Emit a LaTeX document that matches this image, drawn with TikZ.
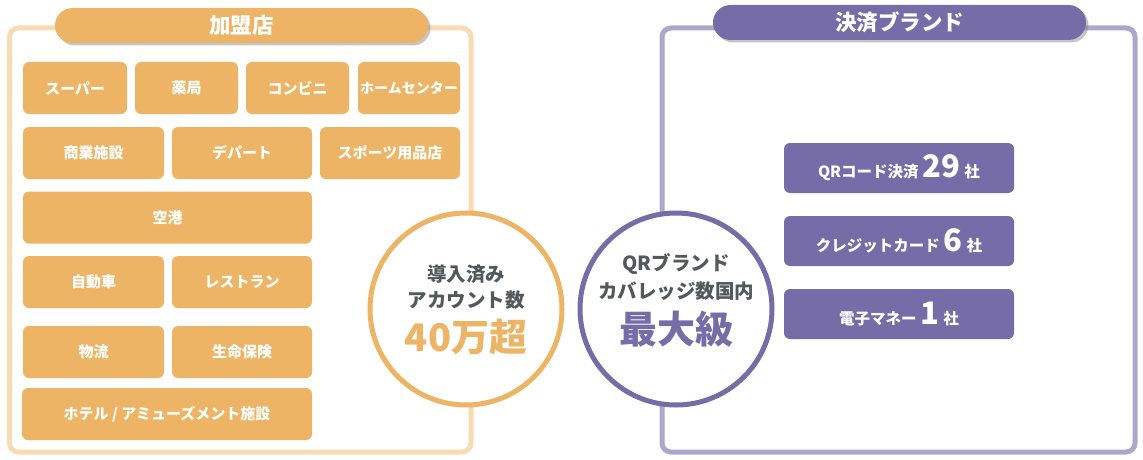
\documentclass[tikz,border=0pt]{standalone}
\usepackage{fontspec}
\setmainfont{Noto Sans CJK JP}
\usepackage{tikz}
\usetikzlibrary{shadows}
\definecolor{shoporange}{RGB}{237,180,101}
\definecolor{shopframe}{RGB}{249,219,178}
\definecolor{brandpurple}{RGB}{117,108,168}
\definecolor{brandframe}{RGB}{172,167,204}
\definecolor{textgrey}{RGB}{84,88,92}
\newcommand{\fs}[1]{\fontsize{#1}{#1}\selectfont}
\newcommand{\bignum}[1]{\hspace{4pt}{\fs{31}#1}\hspace{4pt}}
\tikzstyle{frame}=[line width=5pt, fill=white, rounded corners=9pt, inner sep=0, outer sep=0,
                   drop shadow={opacity=0.25, shadow xshift=1.5pt, shadow yshift=-1.5pt}]
\tikzstyle{pill}=[rounded corners=17.5pt, minimum height=35pt, text=white, font=\bfseries\fs{21.5},
                  inner sep=0, drop shadow={opacity=0.45, shadow xshift=2.5pt, shadow yshift=-2.5pt}]
\tikzstyle{shop}=[fill=shoporange, rounded corners=6pt, minimum height=52pt, inner sep=0,
                  text=white, font=\bfseries\fs{15}]
\tikzstyle{brand}=[fill=brandpurple, rounded corners=6pt, minimum width=230pt, minimum height=50pt,
                   inner sep=0, text=white, font=\bfseries\fs{15.5}]
\tikzstyle{ring}=[circle, line width=5pt, fill=white, minimum size=192pt, inner sep=0]
\tikzstyle{ringtext}=[text=textgrey, font=\bfseries\fs{19.5}, inner sep=0]
\begin{document}
\begin{tikzpicture}[x=1pt, y=-1pt]
    \useasboundingbox (0,0) rectangle (1143,460);
    % frames
    \node[frame, draw=shopframe, minimum width=461.5pt, minimum height=424pt] (shops) at (240.25,240) {};
    \node[frame, draw=brandframe, minimum width=473pt, minimum height=424pt] (brands) at (898.5,240) {};
    \node[pill, fill=shoporange, minimum width=373pt] (shoptitle) at (241.5,25.5) {加盟店};
    \node[pill, fill=brandpurple, minimum width=373pt] (brandtitle) at (899.5,22.5) {決済ブランド};
    % shop boxes
    \node[shop, minimum width=104pt] (S1) at (75,88) {スーパー};
    \node[shop, minimum width=103pt] (S2) at (186.5,88) {薬局};
    \node[shop, minimum width=103pt] (S3) at (297.5,88) {コンビニ};
    \node[shop, minimum width=102pt, font=\bfseries\fs{14}] (S4) at (409,88) {ホームセンター};
    \node[shop, minimum width=141pt] (S5) at (93.5,153) {商業施設};
    \node[shop, minimum width=140pt] (S6) at (242,153) {デパート};
    \node[shop, minimum width=140pt] (S7) at (390,153) {スポーツ用品店};
    \node[shop, minimum width=289pt] (S8) at (167.5,217.5) {空港};
    \node[shop, minimum width=141pt] (S9) at (93.5,282) {自動車};
    \node[shop, minimum width=140pt] (S10) at (242,282) {レストラン};
    \node[shop, minimum width=141pt] (S11) at (93.5,352) {物流};
    \node[shop, minimum width=140pt] (S12) at (242,352) {生命保険};
    \node[shop, minimum width=290pt] (S13) at (167,414) {ホテル / アミューズメント施設};
    % circles
    \node[ring, draw=shoporange] (accounts) at (466,309) {};
    \node[ringtext] (acc1) at ([yshift=35pt]accounts.center) {導入済み};
    \node[ringtext] (acc2) at ([yshift=9pt]accounts.center) {アカウント数};
    \node[ringtext, text=shoporange, font=\bfseries\fs{38}] (acc3) at ([yshift=-28pt]accounts.center) {40万超};
    \node[ring, draw=brandpurple] (coverage) at (676,309) {};
    \node[ringtext] (cov1) at ([yshift=45pt]coverage.center) {QRブランド};
    \node[ringtext] (cov2) at ([yshift=18pt]coverage.center) {カバレッジ数国内};
    \node[ringtext, text=brandpurple, font=\bfseries\fs{38}] (cov3) at ([yshift=-20pt]coverage.center) {最大級};
    % brand boxes
    \node[brand] (B1) at (899,168) {QRコード決済\bignum{29}社};
    \node[brand] (B2) at (899,241) {クレジットカード\bignum{6}社};
    \node[brand] (B3) at (899,314) {電子マネー\bignum{1}社};
\end{tikzpicture}
\end{document}
